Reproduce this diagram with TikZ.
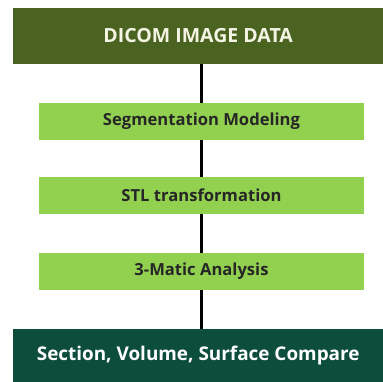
\documentclass[tikz,border=0pt]{standalone}
\usepackage{fontspec}
\setmainfont{Open Sans}
\definecolor{topgreen}{HTML}{4A6320}
\definecolor{lightgreen}{HTML}{92D050}
\definecolor{botgreen}{HTML}{0C4D3B}
\definecolor{toptext}{HTML}{F4F4E4}
\begin{document}
\begin{tikzpicture}[x=1pt,y=1pt,
  darkbox/.style={draw=none,inner sep=0pt,anchor=south west},
  stepbox/.style={draw=none,fill=lightgreen,minimum width=325pt,minimum height=37pt,inner sep=0pt,font=\fontsize{16.6}{19}\selectfont\bfseries,text=black!85},
  link/.style={line width=3pt,black}]
\useasboundingbox (0,0) rectangle (383,382);
\fill[white] (0,0) rectangle (383,382);
\node[darkbox,fill=topgreen,minimum width=370pt,minimum height=56pt,text=toptext,font=\fontsize{19.5}{22}\selectfont\bfseries] (top) at (13,318) {DICOM IMAGE DATA};
\node[stepbox] (seg) at (201.5,260.5) {Segmentation Modeling};
\node[stepbox] (stl) at (201.5,186.5) {STL transformation};
\node[stepbox] (mat) at (201.5,110.5) {3-Matic Analysis};
\node[darkbox,fill=botgreen,minimum width=370pt,minimum height=53pt,text=white,font=\fontsize{18.9}{22}\selectfont\bfseries] (bot) at (13,0) {Section, Volume, Surface Compare};
\draw[link] (top.south -| seg.north) -- (seg.north);
\draw[link] (seg) -- (stl);
\draw[link] (stl) -- (mat);
\draw[link] (mat.south) -- (mat.south |- bot.north);
\end{tikzpicture}
\end{document}
